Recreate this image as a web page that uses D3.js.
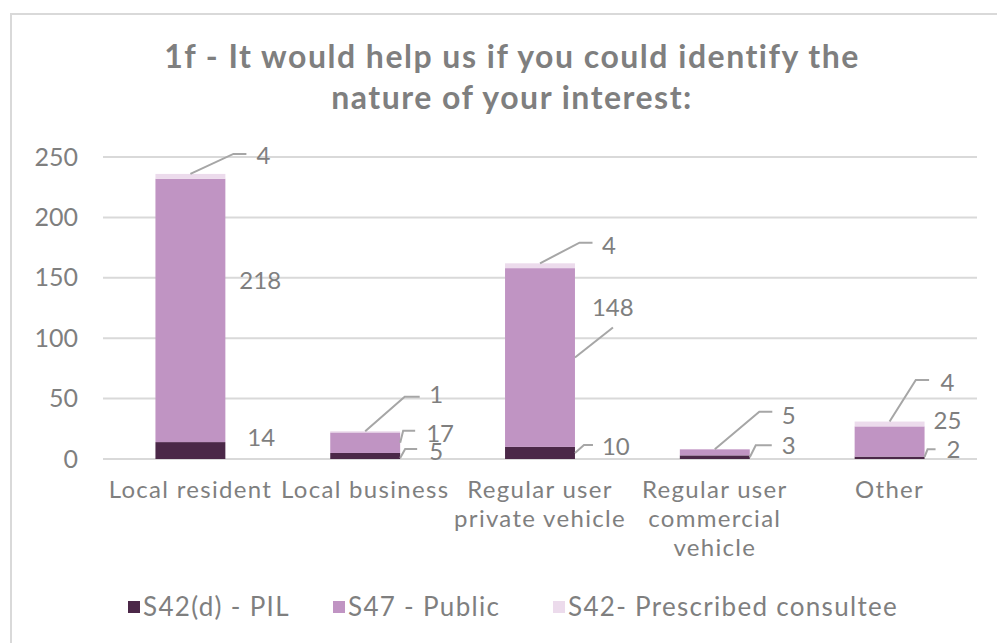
<!DOCTYPE html>
<html>
<head>
<meta charset="utf-8">
<script src="https://cdn.jsdelivr.net/npm/d3@7"></script>
<style>
  html, body { margin: 0; padding: 0; background: #ffffff; }
  svg { display: block; }
  text { font-family: Lato, "Open Sans", "DejaVu Sans", sans-serif; }
</style>
</head>
<body>
<svg id="chart" width="997" height="643"></svg>
<script>
// Categories (x-axis labels, wrapped onto lines)
const categories = [
  "Local resident",
  "Local business",
  "Regular user private vehicle",
  "Regular user commercial vehicle",
  "Other"
];
const categoryLines = [
  ["Local resident"],
  ["Local business"],
  ["Regular user", "private vehicle"],
  ["Regular user", "commercial", "vehicle"],
  ["Other"]
];

// Series values, stacked bottom to top
const seriesNames = ["S42(d) - PIL", "S47 - Public", "S42- Prescribed consultee"];
const pilValues = [14, 5, 10, 3, 2];
const publicValues = [218, 17, 148, 5, 25];
const prescribedValues = [4, 1, 4, 0, 4];

// Value axis ticks
const yTicks = [0, 50, 100, 150, 200, 250];

const titleLines = ["1f - It would help us if you could identify the", "nature of your interest:"];

// ---- styling ----
const colors = ["#4b2848", "#c094c3", "#ecdbec"];
const textGray = "#7f7f7f";
const gridGray = "#d9d9d9";
const leaderGray = "#a6a6a6";

// Data-label placement: anchor on the segment ("top" centre or "right" edge middle),
// optional leader polyline and text offset, all relative to the anchor.
const labelLayout = [
  // S42(d) - PIL
  [
    { anchor: "right", text: [22, -13] },
    { anchor: "right", leader: [[0, 2], [5, -7], [17, -7]], text: [29, -4] },
    { anchor: "right", leader: [[0, 0], [9, -8], [18, -8]], text: [27, -6] },
    { anchor: "right", leader: [[0, 0], [6, -12], [22, -12]], text: [32, -12] },
    { anchor: "right", leader: [[0, -1], [3, -8.5], [11, -8.5]], text: [22, -8.5] }
  ],
  // S47 - Public
  [
    { anchor: "right", text: [14, -30] },
    { anchor: "right", leader: [[0, 0], [3, -12], [15, -12]], text: [26, -9] },
    { anchor: "right", leader: [[0, 0], [38, -30]], text: [17, -50] },
    { anchor: "top", leader: [[0, 0], [44.5, -37.6], [57.5, -37.6]], text: [67, -34] },
    { anchor: "right", text: [9, -21] }
  ],
  // S42- Prescribed consultee
  [
    { anchor: "top", leader: [[0, 0], [43, -20], [56, -20]], text: [66, -18] },
    { anchor: "top", leader: [[0, 0], [39.5, -34.5], [54.5, -34.5]], text: [64, -37] },
    { anchor: "top", leader: [[0, 0], [39.5, -20.6], [52.5, -20.6]], text: [62, -18] },
    null,
    { anchor: "top", leader: [[0, 0], [26.2, -41.6], [39.5, -41.6]], text: [51, -39] }
  ]
];

const svg = d3.select("#chart");

// chart frame
svg.append("rect")
  .attr("x", 11).attr("y", 14)
  .attr("width", 1000).attr("height", 700)
  .attr("fill", "#ffffff")
  .attr("stroke", gridGray).attr("stroke-width", 2);

// title
svg.append("g").selectAll("text")
  .data(titleLines)
  .join("text")
  .attr("x", 512)
  .attr("y", (d, i) => 68 + i * 41)
  .attr("text-anchor", "middle")
  .attr("font-size", 32)
  .attr("font-weight", "bold")
  .attr("letter-spacing", 1.5)
  .attr("fill", textGray)
  .text(d => d);

const plot = { left: 103, right: 977, top: 157, bottom: 459 };

const x = d3.scaleBand()
  .domain(categories)
  .range([plot.left, plot.right])
  .paddingInner(0.6)
  .paddingOuter(0.3);

const y = d3.scaleLinear()
  .domain([0, 250])
  .range([plot.bottom, plot.top]);

// gridlines
svg.append("g").selectAll("line")
  .data(yTicks)
  .join("line")
  .attr("x1", plot.left).attr("x2", plot.right)
  .attr("y1", d => y(d)).attr("y2", d => y(d))
  .attr("stroke", gridGray).attr("stroke-width", 2);

// y axis labels
const yAxis = d3.axisLeft(y).tickValues(yTicks).tickSize(0).tickPadding(0);
const yAxisG = svg.append("g")
  .attr("transform", `translate(78,0)`)
  .call(yAxis);
yAxisG.select(".domain").remove();
yAxisG.selectAll("text")
  .attr("font-size", 25)
  .attr("font-family", "Lato, 'Open Sans', sans-serif")
  .attr("fill", textGray);

// stacked data
const rows = categories.map((c, i) => ({
  cat: c,
  [seriesNames[0]]: pilValues[i],
  [seriesNames[1]]: publicValues[i],
  [seriesNames[2]]: prescribedValues[i]
}));
const stacked = d3.stack().keys(seriesNames)(rows);

const layers = svg.append("g").selectAll("g")
  .data(stacked)
  .join("g")
  .attr("fill", (d, i) => colors[i]);

layers.selectAll("rect")
  .data(d => d)
  .join("rect")
  .attr("x", d => x(d.data.cat))
  .attr("width", x.bandwidth())
  .attr("y", d => y(d[1]))
  .attr("height", d => y(d[0]) - y(d[1]));

// data labels with leader lines
const labelG = svg.append("g");
stacked.forEach((layer, si) => {
  layer.forEach((seg, ci) => {
    const lay = labelLayout[si][ci];
    const value = seg[1] - seg[0];
    if (!lay || value === 0) return;
    const x0 = x(seg.data.cat);
    const yTop = y(seg[1]);
    const yBot = y(seg[0]);
    const ax = lay.anchor === "top" ? x0 + x.bandwidth() / 2 : x0 + x.bandwidth();
    const ay = lay.anchor === "top" ? yTop : (yTop + yBot) / 2;
    if (lay.leader) {
      labelG.append("path")
        .attr("d", d3.line()(lay.leader.map(p => [ax + p[0], ay + p[1]])))
        .attr("fill", "none")
        .attr("stroke", leaderGray)
        .attr("stroke-width", 2);
    }
    labelG.append("text")
      .attr("x", ax + lay.text[0])
      .attr("y", ay + lay.text[1])
      .attr("dy", "0.35em")
      .attr("font-size", 24)
      .attr("fill", textGray)
      .text(value);
  });
});

// category labels
const catG = svg.append("g").selectAll("text")
  .data(categories)
  .join("text")
  .attr("text-anchor", "middle")
  .attr("font-size", 24)
  .attr("letter-spacing", 1.3)
  .attr("fill", textGray);
catG.each(function (c, i) {
  d3.select(this).selectAll("tspan")
    .data(categoryLines[i])
    .join("tspan")
    .attr("x", x(c) + x.bandwidth() / 2)
    .attr("y", (d, j) => 498 + j * 29)
    .text(d => d);
});

// legend
const legendX = [128, 333, 553];
const legend = svg.append("g").selectAll("g")
  .data(seriesNames)
  .join("g")
  .attr("transform", (d, i) => `translate(${legendX[i]},607)`);
legend.append("rect")
  .attr("x", 0).attr("y", -6)
  .attr("width", 12).attr("height", 12)
  .attr("fill", (d, i) => colors[i]);
legend.append("text")
  .attr("x", 15).attr("dy", "0.35em")
  .attr("font-size", 26)
  .attr("letter-spacing", 1.3)
  .attr("fill", textGray)
  .text(d => d);
</script>
</body>
</html>
